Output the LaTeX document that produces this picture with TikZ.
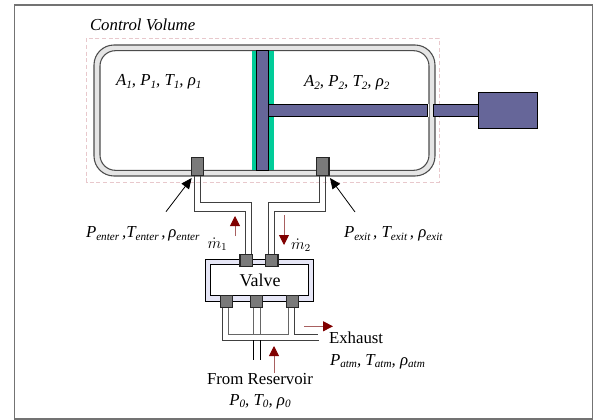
\documentclass[tikz,border=0pt]{standalone}
\usepackage{fontspec}
\usepackage{amsmath}
\setmainfont{Liberation Serif}
\usetikzlibrary{arrows.meta}
\definecolor{pblue}{HTML}{666699}
\definecolor{pgreen}{HTML}{00CC99}
\definecolor{valvefill}{HTML}{E6E6F6}
\definecolor{cvpink}{HTML}{E8C8CC}
\definecolor{darkred}{HTML}{800000}
\definecolor{palered}{HTML}{A86060}
\tikzset{
 px/.style={x=0.75pt,y=-0.75pt},
 wall/.style={draw=black!70,line width=0.8pt},
 gapfill/.style={fill=black!10},
 portbox/.style={draw=black!85,line width=0.8pt,fill=black!52,minimum width=9.2pt,minimum height=9.2pt,inner sep=0pt,outer sep=0pt},
 pipe/.style={draw=black!75,line width=0.65pt},
 redarrow/.style={draw=palered,line width=0.7pt,-{Triangle[length=7.5pt,width=7.5pt,color=darkred]}},
 blackarrow/.style={draw=black,line width=0.6pt,-{Triangle[length=8pt,width=7pt]}},
 bluepart/.style={draw=black,line width=0.7pt,fill=pblue},
 lab/.style={inner sep=0pt,outer sep=0pt,anchor=base west,font=\fontsize{12.6pt}{14pt}\selectfont},
 labc/.style={inner sep=0pt,outer sep=0pt,anchor=base,font=\fontsize{12.6pt}{14pt}\selectfont},
 dotlab/.style={inner sep=0pt,outer sep=0pt,anchor=base west,font=\fontsize{12pt}{14pt}\selectfont},
}
\newcommand{\sbx}[1]{\raisebox{-2.2pt}{\fontsize{8.4pt}{9pt}\selectfont\textit{#1}}}
\begin{document}
\begin{tikzpicture}[px]
\useasboundingbox (0,0) rectangle (595,420);
\fill[white] (0,0) rectangle (595,420);
\draw[black!55,line width=0.9pt] (14.5,5) rectangle (592.7,419);
% control volume
\draw[draw=cvpink,densely dashed,line width=0.5pt] (86.7,38.3) rectangle (439.3,182);
% cylinder wall
\draw[wall,gapfill,rounded corners=15pt] (94,45) rectangle (435,176);
\draw[wall,fill=white,rounded corners=11.5pt] (100,50.7) rectangle (429,170.3);
% piston
\fill[pgreen] (252,50.7) rectangle (274,170.3);
\draw[bluepart] (256.3,50.7) rectangle (268.7,170.3);
\draw[bluepart] (268.7,104.3) rectangle (427.7,116.3);
\fill[white] (427.7,103.6) rectangle (429,117);
\fill[black!10] (429.5,103.6) rectangle (433.3,117);
\draw[bluepart] (433.3,104.3) rectangle (478,116.3);
\node[bluepart,minimum width=44.8pt,minimum height=27pt,inner sep=0pt,outer sep=0pt] (block) at (507.85,110.3) {};
% pipes to cylinder
\draw[pipe] (194.3,176) -- (194.3,211) -- (245.3,211) -- (245.3,256);
\draw[pipe] (200,176) -- (200,202.3) -- (251,202.3) -- (251,256);
\draw[pipe] (325,176) -- (325,211) -- (274,211) -- (274,256);
\draw[pipe] (319,176) -- (319,202.3) -- (268.3,202.3) -- (268.3,256);
% valve
\draw[draw=black,line width=0.7pt,fill=valvefill] (205.7,259.3) rectangle (313.3,301);
\draw[draw=black,line width=0.7pt,fill=white] (210.7,264.7) rectangle (308,295.7);
% lower pipes
\draw[pipe] (222.7,307) -- (222.7,340) -- (319.3,340);
\draw[pipe,draw=black!60] (228.3,307) -- (228.3,334.7) -- (288.3,334.7) -- (288.3,307);
\draw[pipe] (294.3,307) -- (294.3,334.7) -- (317.7,334.7);
\draw[pipe,draw=black!60] (253.7,307) -- (253.7,334.7);
\draw[pipe,draw=black!60] (260,307) -- (260,334.7);
\draw[pipe,draw=black] (253.7,340) -- (253.7,360);
\draw[pipe,draw=black] (260,340) -- (260,360);
% ports
\node[portbox,minimum height=13.5pt] (pa) at (197.5,166.7) {};
\node[portbox,minimum height=13.5pt] (pb) at (322.85,166.8) {};
\node[portbox] (va) at (246.15,260.5) {};
\node[portbox] (vb) at (271.85,260.5) {};
\node[portbox] (vc) at (226.5,301.2) {};
\node[portbox] (vd) at (256.5,301.2) {};
\node[portbox] (ve) at (292.5,301.2) {};
% black arrows
\coordinate (ltail) at (166,211.7);
\coordinate (rtail) at (355,212);
\draw[blackarrow] (ltail) -- (191.7,178);
\draw[blackarrow] (rtail) -- (330,178);
% red arrows
\coordinate (m1a) at (235,236); \coordinate (m1b) at (235,216);
\coordinate (m2a) at (284,215); \coordinate (m2b) at (284,245);
\coordinate (exa) at (304,326.3); \coordinate (exb) at (333,326.3);
\coordinate (rea) at (274,373); \coordinate (reb) at (274,346);
\draw[redarrow] (m1a) -- (m1b);
\draw[redarrow] (m2a) -- (m2b);
\draw[redarrow] (exa) -- (exb);
\draw[redarrow] (rea) -- (reb);
% labels
\node[lab] (cvt) at (90,31) {\textit{Control Volume}};
\node[lab] (s1) at (116,86) {\textit{A\sbx{1}, P\sbx{1}, T\sbx{1}, ρ\sbx{1}}};
\node[lab] (s2) at (304,87) {\textit{A\raisebox{-2.2pt}{\fontsize{8.4pt}{9pt}\selectfont 2}, P\raisebox{-2.2pt}{\fontsize{8.4pt}{9pt}\selectfont 2}, T\raisebox{-2.2pt}{\fontsize{8.4pt}{9pt}\selectfont 2}, ρ\raisebox{-2.2pt}{\fontsize{8.4pt}{9pt}\selectfont 2}}};
\node[lab] (ent) at (86,238) {\textit{P\sbx{enter}\,,T\sbx{enter}\,,\,ρ\sbx{enter}}};
\node[lab] (ext) at (344,238) {\textit{P\sbx{exit}\,, T\sbx{exit}\,, ρ\sbx{exit}}};
\node[dotlab] (m1) at (207.5,248) {$\dot m_{1}$};
\node[dotlab] (m2) at (291,249) {$\dot m_{2}$};
\node[labc,font=\fontsize{13.5pt}{15pt}\selectfont] (valve) at (260,286.5) {Valve};
\node[lab] (exh) at (329,343) {Exhaust};
\node[lab] (atm) at (330,365) {\textit{P\sbx{atm}, T\sbx{atm}, ρ\sbx{atm}}};
\node[labc] (res) at (260,384) {From Reservoir};
\node[labc] (p0) at (260,405) {\textit{P\sbx{0}, T\sbx{0}, ρ\sbx{0}}};
\end{tikzpicture}
\end{document}
